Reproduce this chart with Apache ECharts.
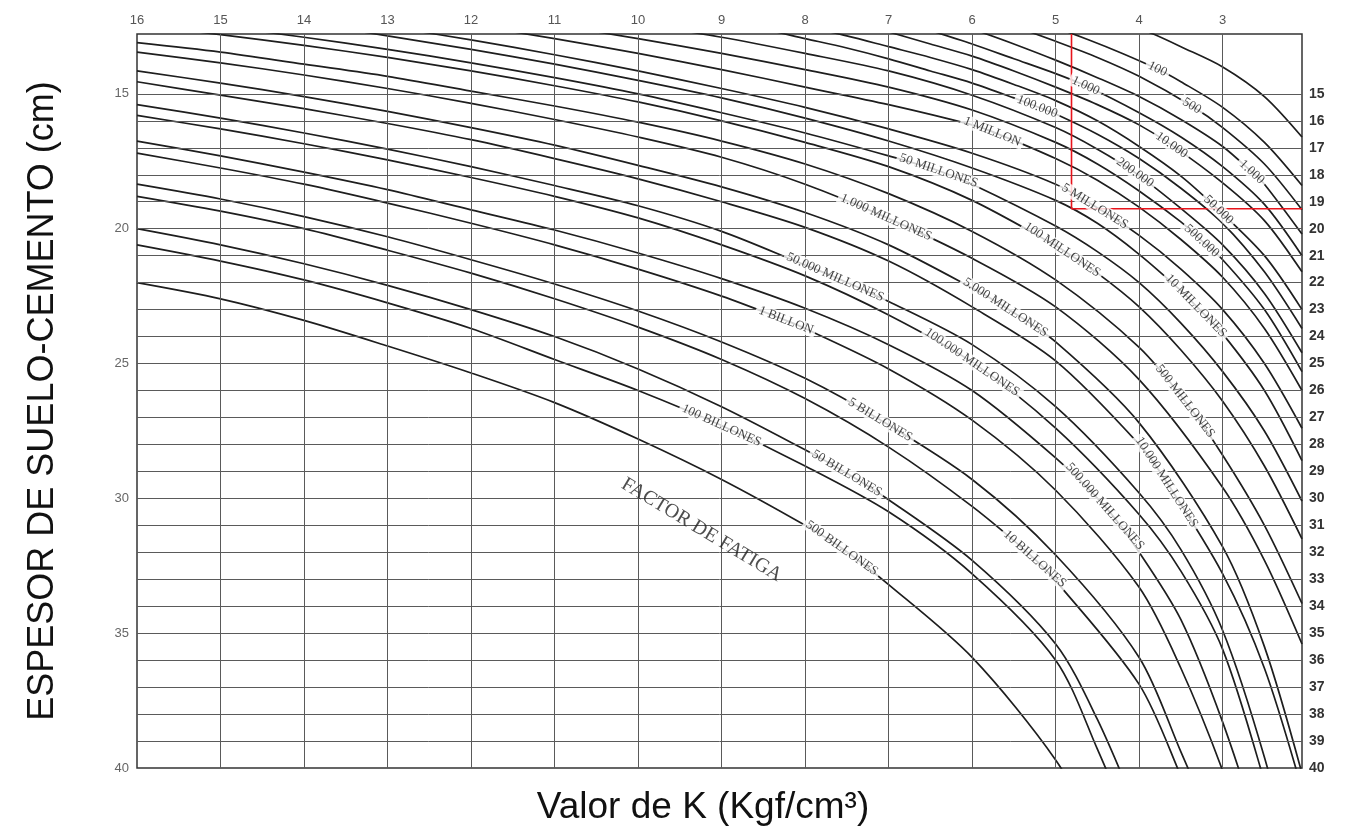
<!DOCTYPE html>
<html><head><meta charset="utf-8">
<script src="https://cdn.jsdelivr.net/npm/echarts@6/dist/echarts.min.js"></script>
<style>html,body{margin:0;padding:0;background:#fff}#c{width:1349px;height:837px}</style>
</head><body><div id="c"></div>
<script>
// ---- axis / tick data ----
const kTicks = [16,15,14,13,12,11,10,9,8,7,6,5,4,3];
const leftTicks = [15,20,25,30,35,40];
const rightTicks = [15,16,17,18,19,20,21,22,23,24,25,26,27,28,29,30,31,32,33,34,35,36,37,38,39,40];
const vGrid = [15,14,13,12,11,10,9,8,7,6,5,4,3];
const hGrid = [15,16,17,18,19,20,21,22,23,24,25,26,27,28,29,30,31,32,33,34,35,36,37,38,39];
const redGuide = [[4.81,12.78],[4.81,19.26],[2.05,19.26]];

// ---- fatigue curves [K, espesor] ----
const c0  = [[4.3,12.2],[3.83,12.78],[3.5,13.25],[3,14.0],[2.5,15.1],[2.05,16.6]];
const c1  = [[5.0,12.55],[4.6,13.0],[4.2,13.5],[3.78,14.08],[3.5,14.55],[3,15.5],[2.5,16.8],[2.05,18.4]];
const c2  = [[5.4,12.6],[5,13.05],[4.5,13.65],[4,14.35],[3.37,15.45],[3,16.25],[2.5,17.6],[2.05,19.3]];
const c3  = [[5.9,12.7],[5.5,13.15],[5,13.75],[4.5,14.4],[4,15.1],[3.5,15.95],[3,16.95],[2.65,17.9],[2.5,18.35],[2.05,20.2]];
const c4  = [[6.5,12.65],[6,13.15],[5.5,13.7],[5,14.25],[4.64,14.7],[4,15.7],[3.5,16.6],[3,17.7],[2.5,19.1],[2.05,21.0]];
const c5  = [[7,12.7],[6.5,13.15],[6,13.6],[5.5,14.15],[5,14.75],[4.5,15.4],[4,16.15],[3.61,16.9],[3,18.3],[2.5,19.7],[2.05,21.6]];
const c6  = [[8,12.5],[7.5,12.85],[7,13.25],[6.5,13.65],[6,14.1],[5.5,14.65],[5,15.25],[4.5,16.0],[4,16.95],[3.5,18.05],[3.05,19.3],[2.5,21.0],[2.05,23.0]];
const c7  = [[9,12.3],[8.5,12.6],[8,12.95],[7.5,13.3],[7,13.7],[6.5,14.15],[6,14.6],[5.5,15.15],[5.22,15.48],[5,15.75],[4.5,16.5],[4,17.4],[3.5,18.5],[3,19.8],[2.5,21.6],[2.05,23.7]];
const c8  = [[10,12.4],[9,12.9],[8,13.5],[7,14.15],[6,15.05],[5,16.25],[4.5,17.05],[4.05,17.92],[3.5,19.25],[3,20.6],[2.5,22.4],[2.05,24.6]];
const c9  = [[11,12.45],[10,12.95],[9,13.5],[8,14.1],[7,14.75],[6,15.6],[5,16.8],[4.5,17.6],[4,18.6],[3.5,19.75],[3.25,20.45],[3,21.15],[2.5,23.0],[2.05,25.3]];
const c10 = [[12,12.45],[11,12.95],[10,13.5],[9,14.1],[8,14.75],[7,15.4],[6,16.15],[5.76,16.4],[5,17.4],[4.5,18.2],[4,19.2],[3.5,20.4],[3,21.8],[2.5,23.7],[2.05,26.0]];
const c11 = [[13,12.5],[12,13.0],[11,13.55],[10,14.15],[9,14.8],[8,15.5],[7,16.3],[6,17.2],[5,18.35],[4.53,19.17],[4,20.25],[3.5,21.5],[3,23.0],[2.5,25.0],[2.05,27.4]];
const c12 = [[13.5,12.6],[13,12.85],[12,13.35],[11,13.9],[10,14.5],[9,15.15],[8,15.9],[7,16.75],[6,17.75],[5,18.95],[4.5,19.8],[4,20.95],[3.5,22.3],[3.32,22.86],[3,23.9],[2.5,26.0],[2.05,28.6]];
const c13 = [[15,12.5],[14,12.9],[13,13.35],[12,13.85],[11,14.4],[10,15.0],[9,15.7],[8,16.45],[7,17.3],[6.4,17.85],[6,18.35],[5,19.9],[4.5,20.85],[4,22.0],[3.5,23.5],[3,25.3],[2.5,27.5],[2.05,30.1]];
const c14 = [[16,12.45],[15,12.8],[14,13.2],[13,13.65],[12,14.15],[11,14.7],[10,15.3],[9,16.0],[8,16.8],[7,17.7],[6,18.95],[5,20.62],[4.92,20.78],[4.5,21.65],[4,22.9],[3.5,24.5],[3,26.4],[2.5,28.8],[2.05,31.5]];
const c15 = [[16,13.1],[15,13.45],[14,13.9],[13,14.35],[12,14.9],[11,15.45],[10,16.05],[9,16.75],[8,17.6],[7,18.7],[6,20.1],[5,21.9],[4,24.4],[3.45,26.4],[3,28.4],[2.5,31.0],[2.05,33.9]];
const c16 = [[16,13.45],[15,13.85],[14,14.3],[13,14.8],[12,15.35],[11,15.95],[10,16.6],[9,17.35],[8,18.35],[7.03,19.58],[6,21.1],[5,22.9],[4,25.6],[3,29.6],[2.5,32.3],[2.05,35.4]];
const c17 = [[16,14.15],[15,14.6],[14,15.1],[13,15.65],[12,16.25],[11,16.9],[10,17.65],[9,18.45],[8,19.4],[7,20.6],[6,22.2],[5.6,22.92],[5,24.2],[4,27.2],[3,31.8],[2.5,35.5],[2.05,40.2]];
const c18 = [[16,14.55],[15,15.05],[14,15.55],[13,16.1],[12,16.7],[11,17.4],[10,18.15],[9,19.0],[8,19.95],[7,21.2],[6,22.9],[5,24.9],[4,28.0],[3.67,29.4],[3,32.8],[2.5,36.3],[2.05,40.8]];
const c19 = [[16,15.4],[15,15.9],[14,16.45],[13,17.05],[12,17.7],[11,18.4],[10,19.15],[9,20.1],[8,21.35],[7.64,21.8],[7,22.7],[6,24.3],[5,26.6],[4,29.8],[3.5,31.9],[3,34.9],[2.5,39.6],[2.05,45]];
const c20 = [[16,15.8],[15,16.3],[14,16.85],[13,17.45],[12,18.1],[11,18.8],[10,19.6],[9,20.6],[8,21.75],[7,23.2],[6,24.95],[5,27.4],[4,30.6],[3.5,32.7],[3,35.6],[2.5,40.5],[2.2,44]];
const c21 = [[16,16.75],[15,17.3],[14,17.9],[13,18.55],[12,19.3],[11,20.05],[10,20.9],[9,21.85],[8,22.95],[7,24.3],[6,26.0],[5,28.5],[4.41,30.3],[4,32.0],[3.5,34.5],[3,38.3],[2.5,43]];
const c22 = [[16,17.2],[15,17.75],[14,18.35],[13,19.05],[12,19.8],[11,20.6],[10,21.5],[9,22.5],[8.23,23.4],[8,23.7],[7,25.2],[6,27.1],[5,29.7],[4,33.3],[3.5,36.3],[3,40.1],[2.7,43]];
const c23 = [[16,18.35],[15,18.9],[14,19.55],[13,20.3],[12,21.15],[11,22.05],[10,23.05],[9,24.2],[8,25.55],[7.1,27.09],[6,29.3],[5,32.1],[4,35.9],[3.5,39.4],[3,43]];
const c24 = [[16,18.8],[15,19.35],[14,20.0],[13,20.8],[12,21.65],[11,22.6],[10,23.65],[9,24.85],[8,26.3],[7,28.1],[6,30.3],[5.25,32.25],[5,33.05],[4,36.9],[3.5,40.3],[3,44]];
const c25 = [[16,20.0],[15,20.6],[14,21.3],[13,22.1],[12,23.0],[11,24.0],[10,25.2],[9,26.6],[8,28.2],[7.5,29.07],[7,30.05],[6,32.3],[5,35.4],[4.5,38.2],[4,41.8]];
const c26 = [[16,20.6],[15,21.2],[14,21.9],[13,22.75],[12,23.7],[11,24.85],[10,26.0],[9,27.3],[8,28.8],[7,30.5],[6,32.8],[5,36.0],[4.5,39.3],[4,43]];
const c27 = [[16,22.0],[15,22.6],[14,23.4],[13,24.35],[12,25.35],[11,26.45],[10,27.8],[9,29.3],[8,31.0],[7.56,31.85],[7,33.2],[6,35.9],[5,39.7],[4.5,42.5]];

const curves = [c0,c1,c2,c3,c4,c5,c6,c7,c8,c9,c10,c11,c12,c13,c14,c15,c16,c17,c18,c19,c20,c21,c22,c23,c24,c25,c26,c27];
const curveLabels = [null,'100','500','1.000','1.000','10.000','50.000','100.000','200.000','500.000',
  '1 MILLON','5 MILLONES','10 MILLONES','50 MILLONES','100 MILLONES','500 MILLONES',
  '1.000 MILLONES','5.000 MILLONES','10.000 MILLONES','50.000 MILLONES','100.000 MILLONES','500.000 MILLONES',
  '1 BILLON','5 BILLONES','10 BILLONES','50 BILLONES','100 BILLONES','500 BILLONES'];
const labelK = [null,3.78,3.37,2.65,4.64,3.61,3.05,5.22,4.05,3.25,5.76,4.53,3.32,6.4,4.92,3.45,7.03,5.6,3.67,7.64,6.0,4.41,8.23,7.1,5.25,7.5,9.0,7.56];
const factorText = 'FACTOR DE FATIGA';
const factorPos = [9.24,31.17];

const chart = echarts.init(document.getElementById('c'));

const axisCommon = {axisLine:{show:false},axisTick:{show:false},splitLine:{show:false}};

function labelItems(rot){
  const items=[];
  curves.forEach((d,i)=>{
    if(!curveLabels[i]) return;
    const idx = d.findIndex(p=>p[0]===labelK[i]);
    items.push({name:curveLabels[i], value:d[idx], label:{rotate: rot? rot[i]:0}});
  });
  return items;
}

const option = {
  animation:false,
  backgroundColor:'#fff',
  grid:{left:137,right:47,top:34,bottom:69,show:true,borderColor:'#333',borderWidth:1.5,backgroundColor:'rgba(0,0,0,0)'},
  xAxis:Object.assign({type:'value',min:2.05,max:16,inverse:true,position:'top',
    axisLabel:{customValues:kTicks,margin:7,color:'#555',fontSize:13,fontFamily:'Liberation Sans'}},axisCommon),
  yAxis:[
    Object.assign({type:'value',min:12.78,max:40,inverse:true,position:'left',
      name:'ESPESOR DE SUELO-CEMENTO (cm)',nameLocation:'middle',nameRotate:90,nameGap:76,
      nameTextStyle:{fontSize:36,color:'#111',fontFamily:'Liberation Sans'},
      axisLabel:{customValues:leftTicks,margin:8,color:'#666',fontSize:13,fontFamily:'Liberation Sans'}},axisCommon),
    Object.assign({type:'value',min:12.78,max:40,inverse:true,position:'right',
      axisLabel:{customValues:rightTicks,margin:7,color:'#333',fontSize:14,fontWeight:'bold',fontFamily:'Liberation Sans'}},axisCommon)
  ],
  graphic:[{type:'text',x:703,y:808,style:{text:'Valor de K (Kgf/cm³)',font:'37px "Liberation Sans", Arial, sans-serif',fill:'#111',align:'center',verticalAlign:'middle',textAlign:'center',textVerticalAlign:'middle'}}],
  series:[
    {type:'line',name:'grid',data:[],silent:true,z:1,
      markLine:{silent:true,animation:false,symbol:['none','none'],label:{show:false},
        lineStyle:{color:'#5a5a5a',width:1,type:'solid'},
        data:[...vGrid.map(k=>({xAxis:k})),...hGrid.map(t=>({yAxis:t}))]}},
    ...curves.map((d,i)=>({type:'line',name:'c'+i,data:d,smooth:0.3,symbol:'none',silent:true,z:3,
      lineStyle:{color:'#1e1e1e',width:1.7}})),
    {type:'line',name:'red',data:redGuide,symbol:'none',silent:true,z:5,lineStyle:{color:'#e8141c',width:1.6}},
    {type:'scatter',name:'labels',data:labelItems(null),symbolSize:1,itemStyle:{color:'rgba(0,0,0,0)'},silent:true,z:6,
      label:{show:true,position:'inside',formatter:p=>p.name,color:'#111',fontSize:13,
        fontFamily:'Liberation Serif, DejaVu Serif, serif',backgroundColor:'#fff',padding:[0,3]}},
    {type:'scatter',name:'factor',data:[{name:factorText,value:factorPos}],symbolSize:1,itemStyle:{color:'rgba(0,0,0,0)'},silent:true,z:6,
      label:{show:true,position:'inside',formatter:p=>p.name,color:'#222',fontSize:20,rotate:-31,
        fontFamily:'Liberation Serif, DejaVu Serif, serif'}}
  ]
};
chart.setOption(option);

// align label rotation with curve direction in pixel space
const rot = curves.map((d,i)=>{
  if(!curveLabels[i]) return 0;
  const idx = d.findIndex(p=>p[0]===labelK[i]);
  const a = chart.convertToPixel({gridIndex:0}, d[Math.max(0,idx-1)]);
  const b = chart.convertToPixel({gridIndex:0}, d[Math.min(d.length-1,idx+1)]);
  return -Math.atan2(b[1]-a[1], b[0]-a[0])*180/Math.PI;
});
chart.setOption({series:[{name:'labels',data:labelItems(rot)}]});
</script>
</body></html>
